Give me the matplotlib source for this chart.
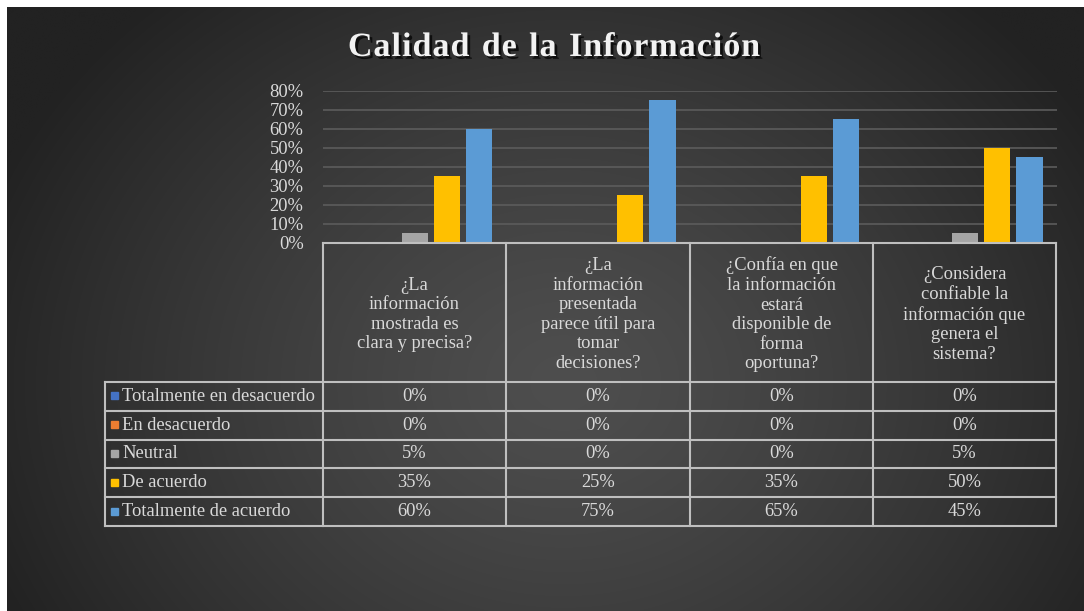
import matplotlib
matplotlib.use("Agg")
import matplotlib.pyplot as plt
import matplotlib.patheffects as pe
import numpy as np

W, H = 1084, 611

title = "Calidad de la Información"
questions = [
    "¿La\ninformación\nmostrada es\nclara y precisa?",
    "¿La\ninformación\npresentada\nparece útil para\ntomar\ndecisiones?",
    "¿Confía en que\nla información\nestará\ndisponible de\nforma\noportuna?",
    "¿Considera\nconfiable la\ninformación que\ngenera el\nsistema?",
]
series = [
    "Totalmente en desacuerdo",
    "En desacuerdo",
    "Neutral",
    "De acuerdo",
    "Totalmente de acuerdo",
]
colors = ["#4472c4", "#ed7d31", "#a5a5a5", "#ffc000", "#5b9bd5"]
totalmente_desacuerdo = [0.00, 0.00, 0.00, 0.00]
en_desacuerdo = [0.00, 0.00, 0.00, 0.00]
neutral = [0.05, 0.00, 0.00, 0.05]
de_acuerdo = [0.35, 0.25, 0.35, 0.50]
totalmente_acuerdo = [0.60, 0.75, 0.65, 0.45]
values = [totalmente_desacuerdo, en_desacuerdo, neutral, de_acuerdo, totalmente_acuerdo]
yticks = [0, 0.1, 0.2, 0.3, 0.4, 0.5, 0.6, 0.7, 0.8]

FONT = "Liberation Serif"
FS = 13.3
TXT = "#d9d9d9"
LINE = "#bfbfbf"

fig = plt.figure(figsize=(W / 100, H / 100), dpi=100)
fig.patch.set_facecolor("white")

# background with radial gradient
bg = fig.add_axes([7 / W, 0, 1 - 7 / W, 1 - 7 / H])
yy, xx = np.mgrid[0:H, 0:W]
d = np.sqrt(((xx - 560) / 620.0) ** 2 + ((yy - 380) / 520.0) ** 2)
d = np.clip(d, 0, 1)
lo, hi = np.array([0x4e, 0x4e, 0x4e]) / 255, np.array([0x22, 0x22, 0x22]) / 255
img = lo[None, None, :] * (1 - d[..., None] ** 1.3) + hi[None, None, :] * d[..., None] ** 1.3
bg.imshow(img, aspect="auto", extent=(0, 1, 0, 1))
bg.set_axis_off()

# bar plot area (pixel layout: x 323..1057, y 91..243)
ax = fig.add_axes([323 / W, 1 - 243 / H, (1057 - 323) / W, (243 - 91) / H])
ax.patch.set_alpha(0)
x = np.arange(len(questions))
bw = 0.142
step = 0.175
for i, (name, vals, c) in enumerate(zip(series, values, colors)):
    ax.bar(x + (i - 2) * step, vals, width=bw, color=c, zorder=3)
ax.set_xlim(-0.5, len(questions) - 0.5)
ax.set_ylim(0, 0.8)
ax.set_yticks(yticks)
ax.set_yticklabels([f"{int(round(t * 100))}%" for t in yticks], fontfamily=FONT,
                   fontsize=FS, color=TXT)
ax.tick_params(axis="y", length=0, pad=14)
ax.set_xticks([])
ax.grid(axis="y", color="#5c5c5c", linewidth=1.2, zorder=0)
for s in ax.spines.values():
    s.set_visible(False)

# overlay in pixel coordinates for the data table and title
ov = fig.add_axes([0, 0, 1, 1])
ov.set_xlim(0, W)
ov.set_ylim(H, 0)
ov.set_axis_off()
ov.patch.set_alpha(0)

col_x = [105, 323, 506, 690, 873, 1056]
head_top, head_bot = 243, 382
row_h = 28.8
rows_y = [head_bot + k * row_h for k in range(len(series) + 1)]
lw = 1.5
ov.plot([col_x[1], col_x[-1]], [head_top, head_top], color=LINE, lw=lw)
for cx in col_x[1:]:
    ov.plot([cx, cx], [head_top, rows_y[-1]], color=LINE, lw=lw)
ov.plot([col_x[0], col_x[0]], [rows_y[0], rows_y[-1]], color=LINE, lw=lw)
for ry in rows_y:
    ov.plot([col_x[0], col_x[-1]], [ry, ry], color=LINE, lw=lw)

for j, q in enumerate(questions):
    cx = (col_x[j + 1] + col_x[j + 2]) / 2
    ov.text(cx, (head_top + head_bot) / 2 + 2, q, ha="center", va="center",
            fontfamily=FONT, fontsize=FS, color=TXT, linespacing=1.2)

for i, (name, vals, c) in enumerate(zip(series, values, colors)):
    cy = (rows_y[i] + rows_y[i + 1]) / 2
    ov.add_patch(plt.Rectangle((111, cy - 4), 7, 7, color=c))
    ov.text(122, cy, name, ha="left", va="center", fontfamily=FONT,
            fontsize=FS, color=TXT)
    for j, v in enumerate(vals):
        cx = (col_x[j + 1] + col_x[j + 2]) / 2
        ov.text(cx, cy, f"{int(round(v * 100))}%", ha="center", va="center",
                fontfamily=FONT, fontsize=FS, color=TXT)

# title with letter spacing
renderer = fig.canvas.get_renderer()
tkw = dict(fontfamily=FONT, fontsize=24.5, fontweight="bold", color="#f2f2f2")
widths = []
for ch in title:
    t = ov.text(0, 0, ch if ch != " " else "n", **tkw)
    bb = t.get_window_extent(renderer)
    widths.append(bb.width * (0.55 if ch == " " else 1.0))
    t.remove()
track = 1.0
total = sum(widths) + track * (len(title) - 1)
cur = 554 - total / 2
shadow = [pe.SimplePatchShadow(offset=(2, -2), alpha=0.7, shadow_rgbFace="black"), pe.Normal()]
for ch, wdt in zip(title, widths):
    if ch != " ":
        ov.text(cur, 56, ch, ha="left", va="baseline", path_effects=shadow, **tkw)
    cur += wdt + track

fig.savefig("out.png", dpi=100, facecolor=fig.get_facecolor())
